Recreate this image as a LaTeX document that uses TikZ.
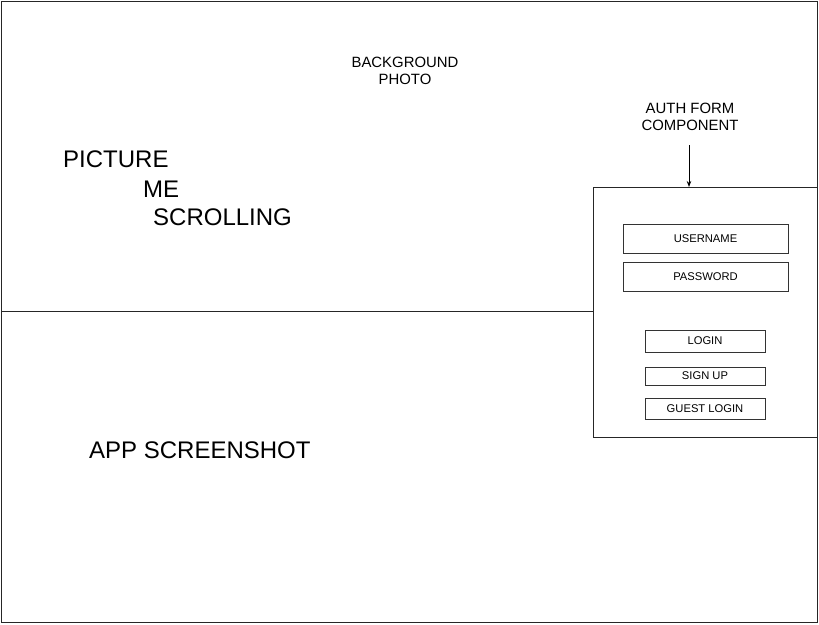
\documentclass[tikz,border=0pt]{standalone}
\usepackage{fontspec}
\setmainfont{Liberation Sans}
\usetikzlibrary{arrows.meta}
\begin{document}
\begin{tikzpicture}[x=1pt,y=-1pt,
  frame/.style={draw=black!85, line width=0.9pt},
  field/.style={draw=black!80, line width=0.7pt, minimum width=165pt, minimum height=29pt, inner sep=0pt, font=\fontsize{11.2}{13}\selectfont},
  btn/.style={draw=black!80, line width=0.7pt, minimum width=120pt, inner sep=0pt, font=\fontsize{11.2}{13}\selectfont},
  label/.style={align=center, font=\fontsize{14.9}{17.5}\selectfont},
  big/.style={anchor=west, font=\fontsize{24}{28}\selectfont, inner sep=0pt}]
\useasboundingbox (0,0) rectangle (819,624);
\node[frame, anchor=north west, minimum width=816pt, minimum height=621pt, inner sep=0pt] (outer) at (1,1) {};
\node[frame, anchor=north west, minimum width=224pt, minimum height=250pt, inner sep=0pt, fill=white] (form) at (593,187) {};
\coordinate (hl) at (1,311);
\draw[black!85, line width=0.8pt] (hl) -- (hl -| form.west);
\node[label] (bg) at (405,71) {BACKGROUND\\PHOTO};
\node[label] (auth) at (690,117) {AUTH FORM\\COMPONENT};
\coordinate (arrowstart) at (689,145);
\draw[black, line width=0.8pt, -{Stealth[length=6pt,width=4.5pt]}] (arrowstart) -- (arrowstart |- form.north);
\node[field] (user) at (705.5,238.5) {USERNAME};
\node[field] (pass) at (705.5,276.5) {PASSWORD};
\node[btn, minimum height=22pt] (login) at (705,341) {LOGIN};
\node[btn, minimum height=18pt] (signup) at (705,376) {SIGN UP};
\node[btn, minimum height=21pt] (guest) at (705,408.5) {GUEST LOGIN};
\node[big] (pic) at (63,159) {PICTURE};
\node[big] (me) at (143,189) {ME};
\node[big] (scroll) at (153,217) {SCROLLING};
\node[big] (app) at (89,450) {APP SCREENSHOT};
\end{tikzpicture}
\end{document}
